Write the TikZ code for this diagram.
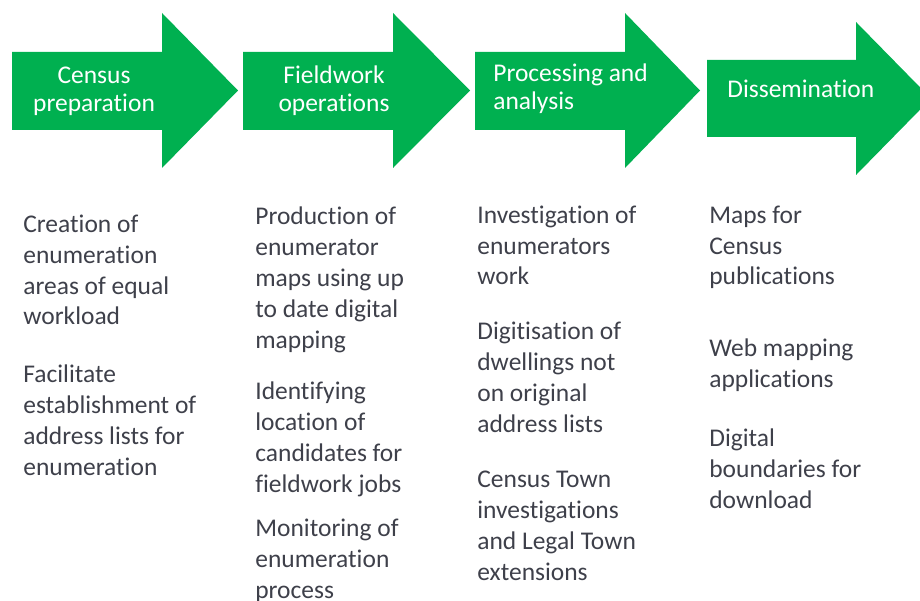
\documentclass[tikz,border=0pt]{standalone}
\usepackage{fontspec}
\setmainfont{Carlito}[Ligatures=NoCommon]
\usepackage{xcolor}
\usepackage{tikz}
\definecolor{stagegreen}{RGB}{0, 176, 80}
\definecolor{taskgray}{RGB}{62, 64, 74}
\tikzset{
    stage/.style = {fill = stagegreen},
    stagelabel/.style = {
        text = white, inner sep = 0pt,
        align = center,
        font = \fontsize{14.5}{16.5}\selectfont
    },
    task/.style = {
        text = taskgray, inner sep = 0pt,
        anchor = base west, align = left,
        font = \fontsize{14.5}{17.6}\selectfont
    }
}

\begin{document}
\begin{tikzpicture}

    \useasboundingbox (0,0) rectangle (18.4,-12.02);
    \clip (0,0) rectangle (18.4,-12.02);

    % Census preparation
    \fill[stage] (0.24,-1.04) -- (3.24,-1.04) -- (3.24,-0.26) -- (4.76,-1.81)
        -- (3.24,-3.36) -- (3.24,-2.60) -- (0.24,-2.60) -- cycle;

    % Fieldwork operations
    \fill[stage] (4.86,-1.04) -- (7.86,-1.04) -- (7.86,-0.26) -- (9.40,-1.81)
        -- (7.86,-3.36) -- (7.86,-2.60) -- (4.86,-2.60) -- cycle;

    % Processing and analysis
    \fill[stage] (9.50,-1.04) -- (12.50,-1.04) -- (12.50,-0.26) -- (14.00,-1.81)
        -- (12.50,-3.36) -- (12.50,-2.60) -- (9.50,-2.60) -- cycle;

    % Dissemination
    \fill[stage] (14.14,-1.20) -- (17.12,-1.20) -- (17.12,-0.44) -- (18.62,-1.97)
        -- (17.12,-3.50) -- (17.12,-2.74) -- (14.14,-2.74) -- cycle;

    % Stage labels (base = last line)
    \node[stagelabel, anchor = base] (prep) at (1.88,-2.24) {Census\\preparation};
    \node[stagelabel, anchor = base] (field) at (6.68,-2.24) {Fieldwork\\operations};
    \node[stagelabel, anchor = base west, align = left] (proc) at (9.86,-2.20) {Processing and\\analysis};
    \node[stagelabel, anchor = base west] (diss) at (14.54,-1.96) {Dissemination};

    % Census preparation tasks
    \node[task] (prepa) at (0.46,-6.50) {Creation of\\enumeration\\areas of equal\\workload};
    \node[task] (prepb) at (0.46,-9.50) {Facilitate\\establishment of\\address lists for\\enumeration};

    % Fieldwork tasks
    \node[task] (fielda) at (5.10,-6.96) {Production of\\enumerator\\maps using up\\to date digital\\mapping};
    \node[task] (fieldb) at (5.10,-9.84) {Identifying\\location of\\candidates for\\fieldwork jobs};
    \node[task] (fieldc) at (5.10,-11.96) {Monitoring of\\enumeration\\process};

    % Processing tasks
    \node[task] (proca) at (9.54,-5.70) {Investigation of\\enumerators\\work};
    \node[task] (procb) at (9.54,-8.64) {Digitisation of\\dwellings not\\on original\\address lists};
    \node[task] (procc) at (9.54,-11.60) {Census Town\\investigations\\and Legal Town\\extensions};

    % Dissemination tasks
    \node[task] (dissa) at (14.18,-5.70) {Maps for\\Census\\publications};
    \node[task] (dissb) at (14.18,-7.74) {Web mapping\\applications};
    \node[task] (dissc) at (14.18,-10.16) {Digital\\boundaries for\\download};

\end{tikzpicture}
\end{document}
